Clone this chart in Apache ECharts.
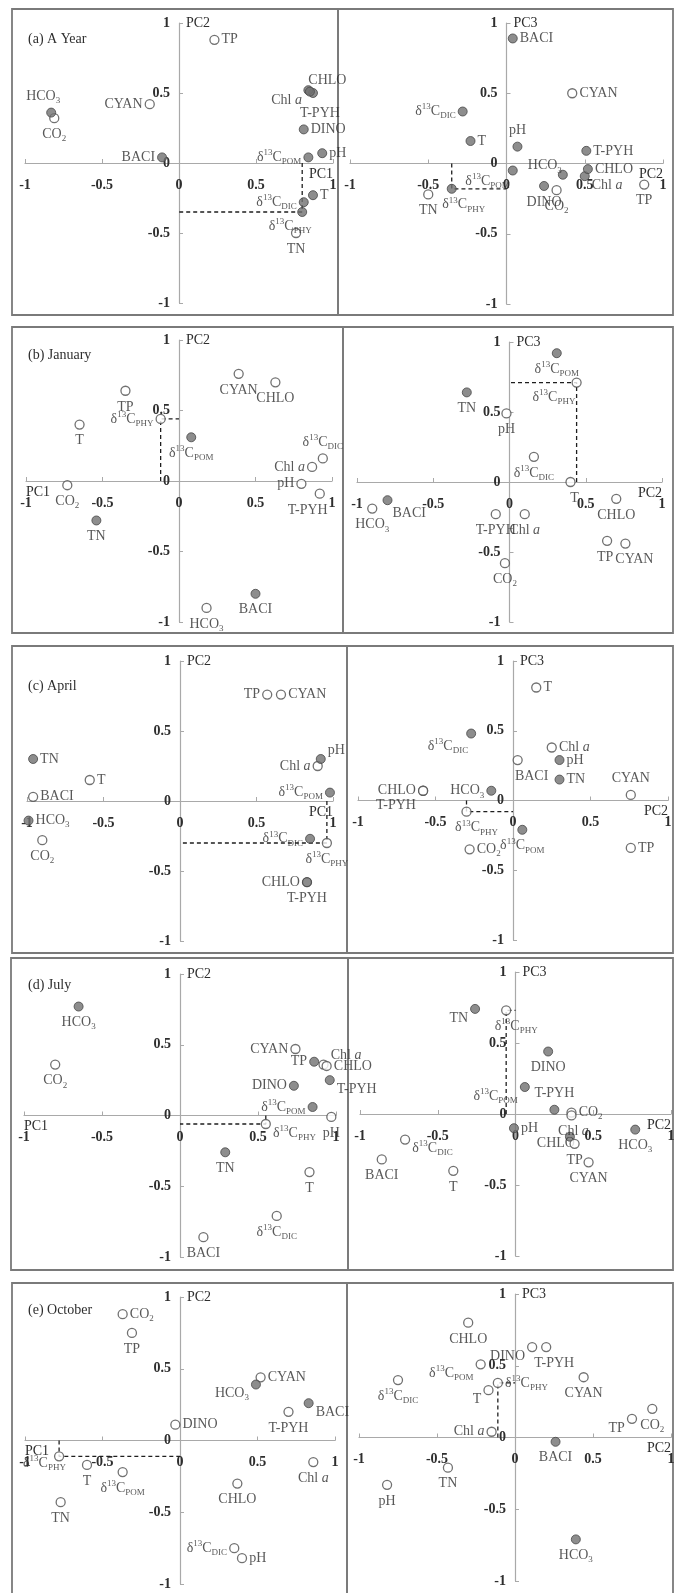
<!DOCTYPE html>
<html>
<head>
<meta charset="utf-8">
<script src="https://cdn.jsdelivr.net/npm/echarts@6/dist/echarts.min.js"></script>
<style>
  html, body { margin: 0; padding: 0; background: #fff; }
  #chart { width: 675px; height: 1593px; }
</style>
</head>
<body>
<div id="chart"></div>
<script>
// Variables, in the order used by every loading table below
const vars = ['TP', 'TN', 'T', 'pH', 'CO2', 'HCO3', 'Chl a', 'CHLO', 'CYAN', 'DINO',
              'BACI', 'T-PYH', 'd13C_DIC', 'd13C_POM', 'd13C_PHY'];

// PCA loadings — whole year
const yearPC1 = [0.23, 0.76, 0.87, 0.93, -0.81, -0.83, 0.87, 0.84, -0.19, 0.81, -0.11, 0.85, 0.81, 0.84, 0.80];
const yearPC2 = [0.88, -0.50, -0.23, 0.07, 0.32, 0.36, 0.50, 0.52, 0.42, 0.24, 0.04, 0.51, -0.28, 0.04, -0.35];
const yearPC3 = [-0.15, -0.22, 0.16, 0.12, -0.19, -0.08, -0.09, -0.04, 0.50, -0.16, 0.89, 0.09, 0.37, -0.05, -0.18];

// January (no DINO)
const janPC1 = [-0.35, -0.54, -0.65, 0.80, -0.73, 0.18, 0.87, 0.63, 0.39, null, 0.50, 0.92, 0.94, 0.08, -0.12];
const janPC2 = [0.64, -0.28, 0.40, -0.02, -0.03, -0.90, 0.10, 0.70, 0.76, null, -0.80, -0.09, 0.16, 0.31, 0.44];
const janPC3 = [-0.42, 0.64, 0.00, 0.49, -0.58, -0.19, -0.23, -0.12, -0.44, null, -0.13, -0.23, 0.18, 0.92, 0.71];

// April (no DINO)
const aprPC1 = [0.57, -0.96, -0.59, 0.92, -0.90, -0.99, 0.90, 0.83, 0.66, null, -0.96, 0.83, 0.85, 0.98, 0.96];
const aprPC2 = [0.76, 0.30, 0.15, 0.30, -0.28, -0.14, 0.25, -0.58, 0.76, null, 0.03, -0.58, -0.27, 0.06, -0.30];
const aprPC3 = [-0.34, 0.15, 0.81, 0.29, -0.35, 0.07, 0.38, 0.07, 0.04, null, 0.29, 0.07, 0.48, -0.21, -0.08];

// July
const julPC1 = [0.86, 0.29, 0.83, 0.97, -0.80, -0.65, 0.92, 0.94, 0.74, 0.73, 0.15, 0.96, 0.62, 0.85, 0.55];
const julPC2 = [0.38, -0.26, -0.40, -0.01, 0.36, 0.77, 0.36, 0.35, 0.47, 0.21, -0.86, 0.25, -0.71, 0.06, -0.06];
const julPC3 = [-0.21, 0.74, -0.40, -0.10, 0.01, -0.11, -0.01, -0.16, -0.34, 0.44, -0.32, 0.03, -0.18, 0.19, 0.73];

// October
const octPC1 = [-0.31, -0.77, -0.60, 0.40, -0.37, 0.49, 0.86, 0.37, 0.52, -0.03, 0.83, 0.70, 0.35, -0.37, -0.78];
const octPC2 = [0.75, -0.43, -0.17, -0.82, 0.88, 0.39, -0.15, -0.30, 0.44, 0.11, 0.26, 0.20, -0.75, -0.22, -0.11];
const octPC3 = [0.13, -0.21, 0.33, -0.33, 0.20, -0.71, 0.04, 0.80, 0.42, 0.63, -0.03, 0.63, 0.40, 0.51, 0.38];

// Variables drawn as filled markers in each panel (the rest are open)
const yearFilled = ['T', 'pH', 'HCO3', 'Chl a', 'CHLO', 'DINO', 'BACI', 'T-PYH', 'd13C_DIC', 'd13C_POM', 'd13C_PHY'];
const janFilled = ['TN', 'BACI', 'd13C_POM'];
const aprFilled12 = ['TN', 'pH', 'HCO3', 'T-PYH', 'd13C_DIC', 'd13C_POM'];
const aprFilled23 = ['TN', 'pH', 'HCO3', 'd13C_DIC', 'd13C_POM'];
const julFilled12 = ['TP', 'TN', 'HCO3', 'DINO', 'T-PYH', 'd13C_POM'];
const julFilled23 = ['TN', 'pH', 'HCO3', 'CHLO', 'DINO', 'T-PYH', 'd13C_POM'];
const octFilled = ['HCO3', 'BACI'];

// Axis ticks
const tickMin = -1, tickMax = 1, tickStep = 0.5;

const FONT = '"Liberation Serif", "Times New Roman", serif';
const TEXT = '#2e2e2e';
const AXIS = '#a9a9a9';

// Label placement per variable, per panel: code or [code, dx, dy]
const L = {
  aL: { TP: 'r', TN: 'b', T: 'r', pH: 'r', CO2: 'b', HCO3: ['t', -8, 0], 'Chl a': ['l', -4, 7],
        CHLO: ['r', -7, -10], CYAN: 'l', DINO: 'r', BACI: 'l', 'T-PYH': ['b', 10, 6],
        d13C_DIC: 'l', d13C_POM: 'l', d13C_PHY: ['b', -12, -2] },
  aR: { BACI: 'r', CYAN: 'r', d13C_DIC: 'l', T: 'r', pH: 't', 'T-PYH': 'r', d13C_POM: ['bl', 4, 2],
        HCO3: ['tl', 6, 0], CHLO: 'r', 'Chl a': 'br', DINO: 'b', CO2: 'b', TP: 'b', TN: 'b',
        d13C_PHY: ['b', 12, 0] },
  bL: { CYAN: 'b', CHLO: 'b', TP: 'b', T: 'b', d13C_PHY: 'l', d13C_POM: 'b', d13C_DIC: 't',
        'Chl a': 'l', pH: 'l', 'T-PYH': ['b', -12, 0], CO2: 'b', TN: 'b', BACI: 'b', HCO3: 'b' },
  bR: { d13C_POM: 'b', d13C_PHY: ['bl', 6, 6], TN: 'b', pH: 'b', d13C_DIC: 'b', T: ['b', 4, 0],
        CHLO: 'b', HCO3: 'b', BACI: ['br', -2, 4], 'T-PYH': 'b', 'Chl a': 'b', TP: ['b', -2, 0],
        CYAN: ['b', 9, 0], CO2: 'b' },
  cL: { TP: 'l', CYAN: 'r', pH: 'tr', 'Chl a': 'l', d13C_POM: 'l', d13C_PHY: 'b', d13C_DIC: 'l',
        CHLO: 'l', 'T-PYH': 'b', TN: 'r', T: 'r', BACI: 'r', HCO3: 'r', CO2: 'b' },
  cR: { T: 'r', d13C_DIC: ['bl', 4, 4], 'Chl a': 'r', BACI: ['b', 14, 0], pH: 'r', TN: 'r', CHLO: 'l',
        'T-PYH': ['bl', 0, 6], HCO3: 'l', CYAN: 't', d13C_PHY: ['b', 10, 0], d13C_POM: 'b', CO2: 'r', TP: 'r' },
  dL: { HCO3: 'b', CO2: 'b', CYAN: 'l', TP: 'l', 'Chl a': 'tr', CHLO: 'r', 'T-PYH': 'br', DINO: 'l',
        d13C_POM: 'l', pH: 'b', d13C_PHY: 'br', TN: 'b', T: 'b', d13C_DIC: 'b', BACI: 'b' },
  dR: { TN: 'bl', d13C_PHY: ['b', 10, 0], DINO: 'b', d13C_POM: 'bl', 'T-PYH': 't', CO2: 'r', pH: 'r',
        'Chl a': ['b', 2, 0], CHLO: ['bl', 12, -2], TP: 'b', CYAN: 'b', HCO3: 'b', d13C_DIC: 'br', BACI: 'b', T: 'b' },
  eL: { CO2: 'r', TP: 'b', CYAN: 'r', HCO3: 'bl', BACI: 'br', 'T-PYH': 'b', DINO: 'r', d13C_PHY: ['l', 14, 7],
        T: 'b', d13C_POM: 'b', TN: 'b', CHLO: 'b', 'Chl a': 'b', d13C_DIC: 'l', pH: 'r' },
  eR: { CHLO: 'b', DINO: 'bl', 'T-PYH': ['b', 8, 0], d13C_POM: 'bl', CYAN: 'b', d13C_DIC: 'b',
        d13C_PHY: 'r', T: 'bl', TP: 'bl', CO2: 'b', 'Chl a': 'l', BACI: 'b', TN: 'b', pH: 'b', HCO3: 'b' }
};

// Panel layout: plot rectangle [left, top, width, height] for the -1..1 square
const panels = [
  { key: 'aL', rect: [25, 23, 308, 280], xs: yearPC1, ys: yearPC2, filled: yearFilled, xName: 'PC1', xAt: 'end', yName: 'PC2', title: '(a) A Year', titleTop: 27 },
  { key: 'aR', rect: [350, 23, 313, 281], xs: yearPC2, ys: yearPC3, filled: yearFilled, xName: 'PC2', xAt: 'end', yName: 'PC3' },
  { key: 'bL', rect: [26, 340, 306, 282], xs: janPC1, ys: janPC2, filled: janFilled, xName: 'PC1', xAt: 'start', yName: 'PC2', title: '(b) January', titleTop: 343 },
  { key: 'bR', rect: [357, 342, 305, 280], xs: janPC2, ys: janPC3, filled: janFilled, xName: 'PC2', xAt: 'end', yName: 'PC3' },
  { key: 'cL', rect: [27, 661, 306, 280], xs: aprPC1, ys: aprPC2, filled: aprFilled12, xName: 'PC1', xAt: 'end', yName: 'PC2', title: '(c) April', titleTop: 674 },
  { key: 'cR', rect: [358, 661, 310, 279], xs: aprPC2, ys: aprPC3, filled: aprFilled23, xName: 'PC2', xAt: 'end', yName: 'PC3' },
  { key: 'dL', rect: [24, 974, 312, 283], xs: julPC1, ys: julPC2, filled: julFilled12, xName: 'PC1', xAt: 'start', yName: 'PC2', title: '(d) July', titleTop: 973 },
  { key: 'dR', rect: [360, 972, 311, 284], xs: julPC2, ys: julPC3, filled: julFilled23, xName: 'PC2', xAt: 'end', yName: 'PC3' },
  { key: 'eL', rect: [25, 1297, 310, 287], xs: octPC1, ys: octPC2, filled: octFilled, xName: 'PC1', xAt: 'start', yName: 'PC2', title: '(e) October', titleTop: 1298 },
  { key: 'eR', rect: [359, 1294, 312, 287], xs: octPC2, ys: octPC3, filled: octFilled, xName: 'PC2', xAt: 'end', yName: 'PC3' }
];

// Frames around each panel: [x, y, width, height]
const frames = [
  [12, 9, 326, 306], [338, 9, 335, 306],
  [12, 327, 331, 306], [343, 327, 330, 306],
  [12, 646, 335, 307], [347, 646, 326, 307],
  [11, 958, 337, 312], [348, 958, 325, 312],
  [12, 1283, 335, 320], [347, 1283, 326, 320]
];

// Rich-text label for a variable name (subscripts, superscripts, italics)
function richName(v) {
  if (v === 'CO2') return '{n|CO}{sub|2}';
  if (v === 'HCO3') return '{n|HCO}{sub|3}';
  if (v === 'Chl a') return '{n|Chl }{it|a}';
  if (v.indexOf('d13C_') === 0) return '{n|δ}{sup|13}{n|C}{sub|' + v.slice(5) + '}';
  return '{n|' + v + '}';
}

const rich = {
  n: { fontFamily: FONT, fontSize: 14, lineHeight: 18, color: TEXT, verticalAlign: 'middle' },
  it: { fontFamily: FONT, fontSize: 14, lineHeight: 18, color: TEXT, fontStyle: 'italic', verticalAlign: 'middle' },
  sub: { fontFamily: FONT, fontSize: 9, lineHeight: 8, color: TEXT, verticalAlign: 'bottom' },
  sup: { fontFamily: FONT, fontSize: 9, lineHeight: 9, color: TEXT, verticalAlign: 'top' }
};

function placeLabel(code) {
  const arr = Array.isArray(code) ? code : [code, 0, 0];
  const base = {
    r: ['right', 0, 0], l: ['left', 0, 0], t: ['top', 0, 0], b: ['bottom', 0, 0],
    tr: ['right', 0, -9], tl: ['left', 0, -9], br: ['right', 0, 9], bl: ['left', 0, 9]
  }[arr[0]];
  return { position: base[0], distance: 2, offset: [base[1] + (arr[1] || 0), base[2] + (arr[2] || 0)] };
}

const grids = [], xAxes = [], yAxes = [], series = [], titles = [];

panels.forEach((p, gi) => {
  grids.push({ left: p.rect[0], top: p.rect[1], width: p.rect[2], height: p.rect[3],
               containLabel: false, outerBoundsMode: 'none' });

  // both axes cross at the origin, in the middle of the square
  xAxes.push({
    gridIndex: gi, type: 'value', min: tickMin, max: tickMax, interval: tickStep,
    position: 'bottom', offset: -p.rect[3] / 2,
    axisLine: { onZero: false, lineStyle: { color: AXIS, width: 1.2 } },
    axisTick: { inside: true, length: 4, lineStyle: { color: AXIS } },
    axisLabel: { margin: 15, fontFamily: FONT, fontSize: 14, fontWeight: 'bold', color: TEXT },
    splitLine: { show: false },
    // axis title tucked under the line, just inside the end of the axis
    name: p.xName, nameLocation: p.xAt, nameGap: -24, nameMoveOverlap: false,
    nameTextStyle: { fontFamily: FONT, fontSize: 14, color: TEXT, verticalAlign: 'top', padding: [4, 0, 0, 0] }
  });

  yAxes.push({
    gridIndex: gi, type: 'value', min: tickMin, max: tickMax, interval: tickStep,
    position: 'left', offset: -p.rect[2] / 2,
    axisLine: { onZero: false, lineStyle: { color: AXIS, width: 1.2 } },
    axisTick: { inside: true, length: 4, lineStyle: { color: AXIS } },
    axisLabel: { margin: 9, fontFamily: FONT, fontSize: 14, fontWeight: 'bold', color: TEXT },
    splitLine: { show: false },
    name: p.yName, nameLocation: 'end', nameGap: 0, nameMoveOverlap: false,
    nameTextStyle: { fontFamily: FONT, fontSize: 14, color: TEXT, align: 'left', verticalAlign: 'middle', padding: [0, 0, 0, 7] }
  });

  if (p.title) {
    titles.push({ text: p.title, left: 23, top: p.titleTop,
      textStyle: { fontFamily: FONT, fontSize: 14, fontWeight: 'normal', color: TEXT } });
  }

  const place = L[p.key];
  const pts = (isFilled) => vars.map((v, i) => {
    if (p.xs[i] == null || p.ys[i] == null) return null;
    if ((p.filled.indexOf(v) >= 0) !== isFilled) return null;
    return { name: v, value: [p.xs[i], p.ys[i]], label: placeLabel(place[v] || 'b') };
  }).filter(d => d);

  // projection of the δ13C-PHY loading onto both axes
  const k = vars.indexOf('d13C_PHY');
  const px = p.xs[k], py = p.ys[k];
  series.push({
    type: 'line', xAxisIndex: gi, yAxisIndex: gi, silent: true, symbol: 'none', z: 2,
    data: [[px, 0], [px, py], [0, py]],
    lineStyle: { color: '#1e1e1e', width: 1.3, type: [4, 3] }
  });

  const labelBase = { show: true, formatter: (d) => richName(d.name), rich: rich };
  const openS = {
    type: 'scatter', xAxisIndex: gi, yAxisIndex: gi, symbol: 'circle', symbolSize: 9, clip: false,
    itemStyle: { color: '#ffffff', borderColor: '#4e4e4e', borderWidth: 1.3 },
    label: labelBase, data: pts(false), z: p.key[1] === 'R' ? 4 : 3
  };
  const fillS = {
    type: 'scatter', xAxisIndex: gi, yAxisIndex: gi, symbol: 'circle', symbolSize: 9, clip: false,
    itemStyle: { color: '#707070', borderColor: '#474747', borderWidth: 1 },
    label: labelBase, data: pts(true), z: p.key[1] === 'R' ? 3 : 4
  };
  series.push(openS, fillS);
});

const chart = echarts.init(document.getElementById('chart'), null, { renderer: 'canvas', width: 675, height: 1593 });
chart.setOption({
  backgroundColor: '#ffffff',
  animation: false,
  title: titles,
  grid: grids,
  xAxis: xAxes,
  yAxis: yAxes,
  series: series,
  graphic: frames.map(f => ({
    type: 'rect', silent: true, z: 0,
    shape: { x: f[0], y: f[1], width: f[2], height: f[3] },
    style: { fill: 'none', stroke: '#7a7a7a', lineWidth: 1.8 }
  }))
});
</script>
</body>
</html>
